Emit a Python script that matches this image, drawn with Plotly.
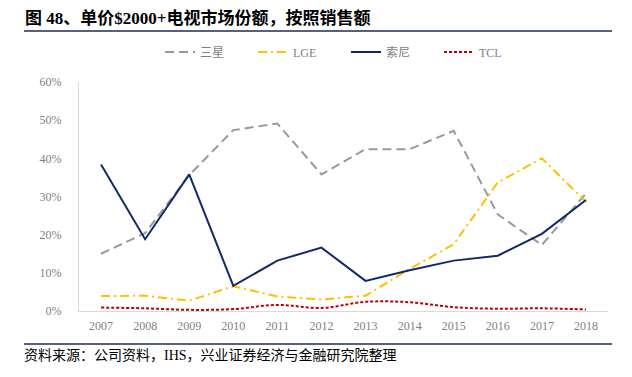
import plotly.graph_objects as go

years = ["2007", "2008", "2009", "2010", "2011", "2012", "2013", "2014", "2015", "2016", "2017", "2018"]
samsung = [0.150, 0.204, 0.356, 0.474, 0.491, 0.358, 0.424, 0.424, 0.472, 0.253, 0.173, 0.308]
lge = [0.039, 0.040, 0.027, 0.065, 0.038, 0.030, 0.040, 0.110, 0.175, 0.337, 0.400, 0.286]
sony = [0.384, 0.188, 0.358, 0.066, 0.132, 0.166, 0.079, 0.107, 0.132, 0.145, 0.202, 0.291]
tcl = [0.009, 0.007, 0.003, 0.005, 0.016, 0.008, 0.024, 0.023, 0.010, 0.006, 0.007, 0.004]

title_text = "图 48、单价$2000+电视市场份额，按照销售额"
source_text = "资料来源：公司资料，IHS，兴业证券经济与金融研究院整理"

W, H = 632, 377
L, R, T, B = 79, 24, 82, 66
pw, ph = W - L - R, H - T - B

def px(x):
    return (x - L) / pw

def py(y):
    return (H - B - y) / ph

serif = "Liberation Serif, Noto Sans CJK SC"
fig = go.Figure()
fig.add_trace(go.Scatter(x=years, y=samsung, name="三星", mode="lines",
                         line=dict(color="#999999", width=2, dash="9px,5px")))
fig.add_trace(go.Scatter(x=years, y=lge, name="LGE", mode="lines",
                         line=dict(color="#FFC000", width=2, dash="9px,4px,2px,4px")))
fig.add_trace(go.Scatter(x=years, y=sony, name="索尼", mode="lines",
                         line=dict(color="#0F2A6B", width=2)))
fig.add_trace(go.Scatter(x=years, y=tcl, name="TCL", mode="lines",
                         line=dict(color="#C00000", width=2, dash="3px,2px", shape="spline")))

fig.update_layout(
    width=W, height=H,
    margin=dict(l=L, r=R, t=T, b=B, pad=0),
    paper_bgcolor="white", plot_bgcolor="white",
    font=dict(family=serif, size=12, color="#7F7F7F"),
    showlegend=True,
    legend=dict(orientation="h", x=px(160), y=py(52), xanchor="left", yanchor="middle",
                font=dict(family=serif, size=12, color="#7F7F7F"),
                itemwidth=30, entrywidth=48, entrywidthmode="pixels",
                tracegroupgap=0, bgcolor="rgba(0,0,0,0)"),
    xaxis=dict(type="category", range=[-0.5, 11.5], showgrid=False, showline=True,
               linecolor="#D9D9D9", linewidth=1, ticks="", ticklabelstandoff=4,
               tickfont=dict(family=serif, size=12, color="#7F7F7F")),
    yaxis=dict(range=[0, 0.6], dtick=0.1, tickformat=".0%", showgrid=False,
               showline=True, linecolor="#D9D9D9", linewidth=1, ticks="", zeroline=False,
               ticklabelstandoff=14,
               tickfont=dict(family=serif, size=12, color="#7F7F7F")),
)

fig.add_annotation(text="<b>" + title_text + "</b>", xref="paper", yref="paper",
                   x=px(23), y=py(18.5), xanchor="left", yanchor="middle", showarrow=False,
                   font=dict(family=serif, size=17, color="black"))
fig.add_annotation(text=source_text, xref="paper", yref="paper",
                   x=px(22), y=py(355.5), xanchor="left", yanchor="middle", showarrow=False,
                   font=dict(family=serif, size=14, color="black"))
fig.add_shape(type="line", xref="paper", yref="paper", x0=px(24), x1=px(612),
              y0=py(31), y1=py(31), line=dict(color="#1F2A5A", width=1.5))
fig.add_shape(type="line", xref="paper", yref="paper", x0=px(24), x1=px(612),
              y0=py(344), y1=py(344), line=dict(color="#1F2A5A", width=1.5))

fig.write_html("out.html", post_script="document.body.style.margin='0';",
               config={"displayModeBar": False})
